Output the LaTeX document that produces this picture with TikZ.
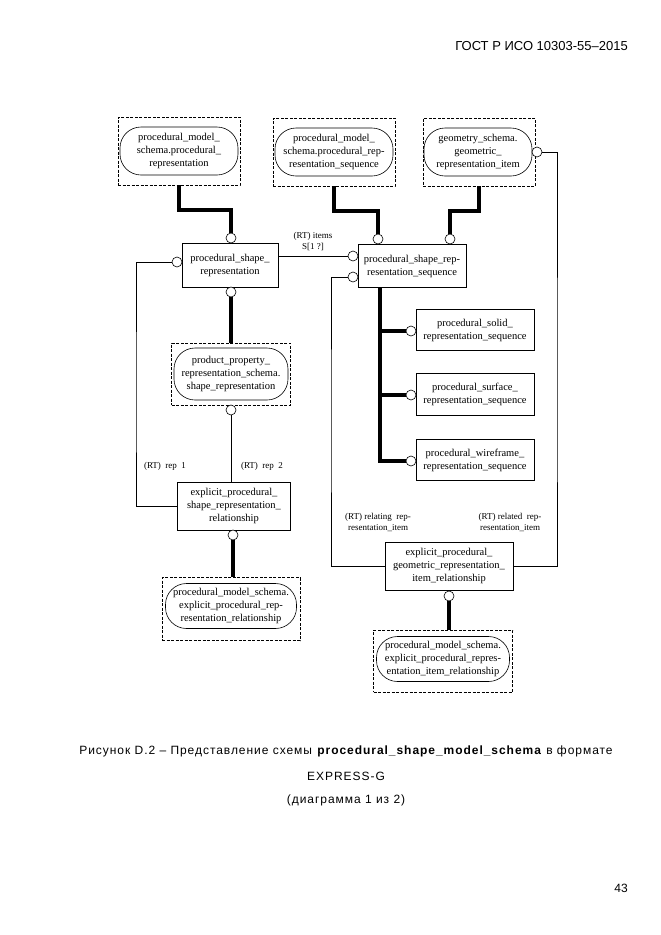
\documentclass[tikz,border=0pt]{standalone}
\usepackage{fontspec}
\setmainfont{Liberation Serif}
\newfontfamily\capfont{Liberation Sans}
\newfontfamily\capwide[LetterSpace=8]{Liberation Sans}
\begin{document}
\begin{tikzpicture}[x=1pt,y=-1pt,
  every node/.style={font=\fontsize{10.5}{13}\selectfont, align=center, inner sep=0pt},
  ent/.style={draw, line width=0.7pt, fill=white},
  rnd/.style={draw, line width=0.6pt, rounded corners=21pt},
  dbox/.style={draw, dashed, dash pattern=on 3pt off 1.5pt, line width=0.7pt},
  oc/.style={draw, circle, fill=white, minimum size=10pt, inner sep=0pt, line width=0.6pt},
  thk/.style={line width=4pt},
  thn/.style={line width=0.6pt},
  lbl/.style={font=\fontsize{9}{11}\selectfont},
  capt/.style={font=\capwide\fontsize{12}{14}\selectfont}
]
\useasboundingbox (0,0) rectangle (661,935);

% header and footer
\node[font=\capfont\fontsize{13}{15}\selectfont, anchor=east] (hdr) at (628,46) {ГОСТ Р ИСО 10303-55–2015};
\node[font=\capfont\fontsize{12}{14}\selectfont] (pg) at (621,888) {43};

% top dashed boxes
\node[dbox, minimum width=122pt, minimum height=68pt] (d1) at (179,151) {};
\node[rnd, minimum width=118pt, minimum height=48pt] (r1) at (179,151) {procedural\_model\_\\schema.procedural\_\\representation};
\node[dbox, minimum width=122pt, minimum height=68pt] (d2) at (334,152) {};
\node[rnd, minimum width=118pt, minimum height=48pt] (r2) at (334,152) {procedural\_model\_\\schema.procedural\_rep-\\resentation\_sequence};
\node[dbox, minimum width=112pt, minimum height=68pt] (d3) at (479,152) {};
\node[rnd, minimum width=108pt, minimum height=48pt] (r3) at (478,152) {geometry\_schema.\\geometric\_\\representation\_item};
\node[oc] (cg) at (537,152) {};

% procedural_shape_representation
\node[ent, minimum width=96pt, minimum height=44pt] (psr) at (230,265) {procedural\_shape\_\\representation};
\node[oc] (psrT) at (231,238) {};
\node[oc] (psrB) at (231,292) {};
\node[oc] (psrL) at (177,262) {};

% procedural_shape_representation_sequence
\node[ent, minimum width=108pt, minimum height=43pt] (psrs) at (412,266) {procedural\_shape\_rep-\\resentation\_sequence};
\node[oc] (psT1) at (378,239) {};
\node[oc] (psT2) at (450,239) {};
\node[oc] (psL1) at (353,256) {};
\node[oc] (psL2) at (353,277) {};

% subtypes
\node[ent, minimum width=118pt, minimum height=41pt] (sol) at (475,330) {procedural\_solid\_\\representation\_sequence};
\node[ent, minimum width=118pt, minimum height=42pt] (sur) at (475,394) {procedural\_surface\_\\representation\_sequence};
\node[ent, minimum width=118pt, minimum height=41pt] (wir) at (475,460) {procedural\_wireframe\_\\representation\_sequence};
\node[oc] (cso) at (411,331) {};
\node[oc] (csu) at (411,395) {};
\node[oc] (cwi) at (411,461) {};

% product_property_representation_schema
\node[dbox, minimum width=119pt, minimum height=62pt] (d4) at (231,374) {};
\node[rnd, minimum width=114pt, minimum height=52pt] (r4) at (231,374) {product\_property\_\\representation\_schema.\\shape\_representation};
\node[oc] (c4) at (231,410) {};

% explicit_procedural_shape_representation_relationship
\node[ent, minimum width=113pt, minimum height=48pt] (e1) at (234,506) {explicit\_procedural\_\\shape\_representation\_\\relationship};
\node[oc] (e1B) at (233,535) {};
\node[dbox, minimum width=138pt, minimum height=63pt] (d5) at (231,609) {};
\node[rnd, minimum width=131pt, minimum height=45pt] (r5) at (231,606) {procedural\_model\_schema.\\explicit\_procedural\_rep-\\resentation\_relationship};

% explicit_procedural_geometric_representation_item_relationship
\node[ent, minimum width=128pt, minimum height=48pt] (e2) at (449,566) {explicit\_procedural\_\\geometric\_representation\_\\item\_relationship};
\node[oc] (e2B) at (449,596) {};
\node[dbox, minimum width=139pt, minimum height=62pt] (d6) at (443,661) {};
\node[rnd, minimum width=133pt, minimum height=45pt] (r6) at (443,659) {procedural\_model\_schema.\\explicit\_procedural\_repres-\\entation\_item\_relationship};

% coordinates for bends
\coordinate (kL) at (136,400);
\coordinate (kM) at (331,420);
\coordinate (kR) at (557,400);
\coordinate (kT) at (380,463);

% thick connectors
\draw[thk] (d1.south) -- ++(0,25) -| (psrT.north);
\draw[thk] (d2.south) -- ++(0,25) -| (psT1.north);
\draw[thk] (d3.south) -- ++(0,25) -| (psT2.north);
\draw[thk] (psrB.south) -- (psrB.south |- d4.north);
\draw[thk] (e1B.south) -- (e1B.south |- d5.north);
\draw[thk] (e2B.south) -- (e2B.south |- d6.north);
\draw[thk, line cap=butt] (psrs.south -| kT) -- (kT);
\draw[thk] (cso.west) -- (cso.west -| kT);
\draw[thk] (csu.west) -- (csu.west -| kT);
\draw[thk] ([xshift=-2pt]cwi.west -| kT) -- (cwi.west);

% thin connectors
\draw[thn] (psL1.west) -- (psL1.west -| psr.east);
\draw[thn] (psrL.west) -| (kL) |- (e1.west);
\draw[thn] (c4.south) -- (c4.south |- e1.north);
\draw[thn] (psL2.west) -| (kM) |- (e2.west);
\draw[thn] (cg.east) -| (kR) |- (e2.east);

% labels
\node[lbl] (l1) at (313,241) {(RT) items\\S[1 ?]};
\node[lbl] (l2) at (165,466) {(RT)\ \ rep\ \ 1};
\node[lbl] (l3) at (262,466) {(RT)\ \ rep\ \ 2};
\node[lbl] (l4) at (378,522) {(RT)\ relating\ \ rep-\\resentation\_item};
\node[lbl] (l5) at (510,522) {(RT)\ related\ \ rep-\\resentation\_item};

% caption
\node[capt] (cap1) at (346,751) {Рисунок D.2 – Представление схемы \textbf{procedural\_shape\_model\_schema} в формате};
\node[capt] (cap2) at (346,776) {EXPRESS-G};
\node[capt] (cap3) at (346,800) {(диаграмма 1 из 2)};
\end{tikzpicture}
\end{document}
